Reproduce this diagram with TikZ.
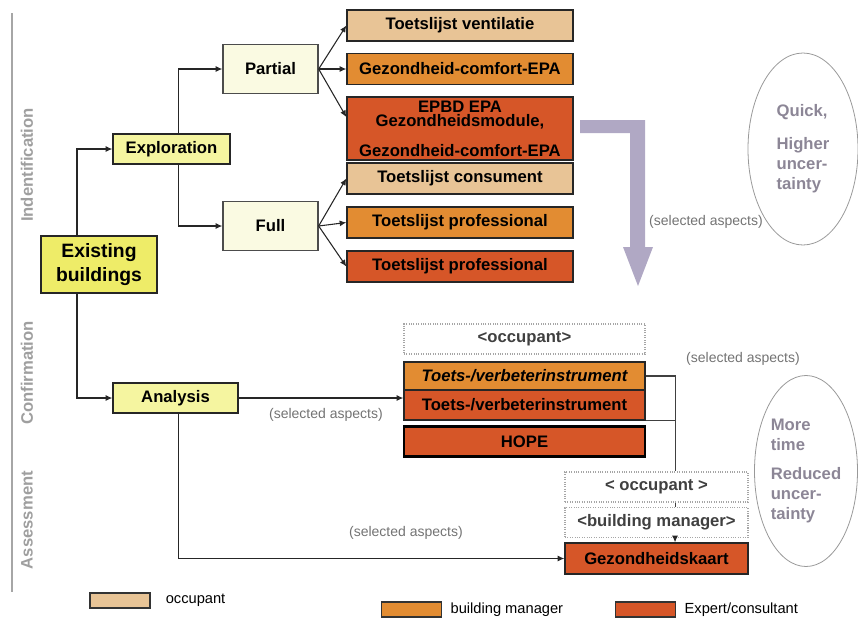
\documentclass[tikz,border=0pt]{standalone}
\usepackage{fontspec}
\setmainfont{Liberation Sans}
\usetikzlibrary{arrows.meta,positioning,shapes.geometric}
\definecolor{eyellow}{RGB}{238,236,104}
\definecolor{lyellow}{RGB}{245,245,160}
\definecolor{cream}{RGB}{250,250,226}
\definecolor{tanc}{RGB}{232,196,150}
\definecolor{orgc}{RGB}{226,140,50}
\definecolor{redc}{RGB}{214,86,40}
\definecolor{tgray}{RGB}{140,134,150}
\definecolor{agray}{RGB}{176,168,196}
\begin{document}
\begin{tikzpicture}[
        x=0.75pt, y=-0.75pt,
        font=\bfseries\fontsize{12.5}{14}\selectfont
    ]
    \tikzset{
        box/.style = {rectangle, draw=black!85, line width=1pt, inner sep=0pt, align=center},
        ybox/.style = {box, fill=eyellow, minimum width=87pt, minimum height=42.75pt,
                       font=\bfseries\fontsize{14.5}{18.5}\selectfont},
        lbox/.style = {box, fill=lyellow, minimum height=22.5pt},
        cbox/.style = {box, fill=cream, draw=black!70, minimum width=71.25pt, minimum height=36.5pt},
        tool/.style = {box, minimum width=169.5pt, minimum height=23.25pt},
        ctool/.style = {box, minimum width=180.75pt, minimum height=22.5pt},
        atool/.style = {box, minimum width=137.25pt, minimum height=23.25pt},
        role/.style = {rectangle, draw=gray!70, densely dotted, line width=0.8pt, fill=white,
                       inner sep=0pt, minimum height=22.5pt, text=black!75},
        phase/.style = {ellipse, draw=gray!80, line width=0.6pt, inner sep=0pt, align=left, text=tgray,
                        font=\bfseries\fontsize{12.5}{15}\selectfont},
        note/.style = {text=black!55, inner sep=0pt, font=\fontsize{10.5}{12}\selectfont},
        side/.style = {text=gray!75, rotate=90, inner sep=0pt},
        legbox/.style = {rectangle, draw=black!80, line width=1.3pt, inner sep=0pt,
                         minimum width=45pt, minimum height=11.25pt},
        legtxt/.style = {inner sep=0pt, font=\fontsize{11}{13}\selectfont},
        link/.style = {-{Latex[length=5pt,width=4.5pt]}, line width=0.8pt, draw=black!85},
        plain/.style = {-, line width=0.8pt, draw=black!75},
    }
    \useasboundingbox (0,0) rectangle (858,619);
    % phases
    \draw[gray!70, line width=1pt] (12,13) -- (12,592);
    \node[side] at (27,165) (ident) {Indentification};
    \node[side] at (27,373) (confirm) {Confirmation};
    \node[side] at (27,520) (assess) {Assessment};
    %
    \node[ybox] at (99,264.5) (eb) {Existing\\buildings};
    \node[lbox, minimum width=87.75pt] at (171.5,149) (expl) {Exploration};
    \node[cbox] at (270.5,69) (part) {Partial};
    \node[cbox] at (270.5,226) (full) {Full};
    \node[lbox, minimum width=93.75pt] at (175.5,398) (anal) {Analysis};
    %
    \node[tool, fill=tanc] at (460,25.5) (vent) {Toetslijst ventilatie};
    \node[tool, fill=orgc] at (460,69) (gcepa) {Gezondheid-comfort-EPA};
    \node[tool, fill=redc, minimum height=47.25pt] at (460,128.5) (epbd)
        {EPBD EPA\\[-3pt]Gezondheidsmodule,\\[8pt]Gezondheid-comfort-EPA};
    \node[tool, fill=tanc] at (460,178.5) (cons) {Toetslijst consument};
    \node[tool, fill=orgc] at (460,222.5) (prof1) {Toetslijst professional};
    \node[tool, fill=redc] at (460,266.5) (prof2) {Toetslijst professional};
    %
    \node[role, minimum width=180.75pt] at (524.5,339) (occ1) {<occupant>};
    \node[ctool, fill=orgc, minimum height=21pt] at (524.5,376) (toetsA) {\itshape Toets-/verbeterinstrument};
    \node[ctool, fill=redc] at (524.5,405) (toetsB) {Toets-/verbeterinstrument};
    \node[ctool, fill=redc, line width=1.6pt, draw=black] at (524.5,441.5) (hope) {HOPE};
    %
    \node[role, minimum width=137.25pt] at (656.5,487) (occ2) {< occupant >};
    \node[role, minimum width=137.25pt] at (656.5,522.5) (bm) {<building manager>};
    \node[atool, fill=redc] at (656.5,558.5) (gk) {Gezondheidskaart};
    \coordinate (tap) at ([xshift=13.9pt]occ2.north);
    %
    \node[phase, minimum width=82.5pt, minimum height=144pt] at (803,149) (quick)
        {Quick,\\[10pt]Higher\\uncer-\\tainty};
    \node[phase, minimum width=77.25pt, minimum height=143.25pt] at (806,471) (slow)
        {More\\time\\[7pt]Reduced\\uncer-\\tainty};
    %
    \fill[agray] (580,120) -- (645,120) -- (645,247) -- (653,247) -- (638,286)
        -- (623,247) -- (630,247) -- (630,133) -- (580,133) -- cycle;
    \node[note] at (706,222) (sel1) {(selected aspects)};
    \node[note] at (743,359) (sel2) {(selected aspects)};
    %
    \draw[link] ([xshift=-16.5pt]eb.north) |- (expl.west);
    \draw[link] ([xshift=-16.5pt]eb.south) |- (anal.west);
    \draw[link] ([xshift=4.9pt]expl.north) |- (part.west);
    \draw[link] ([xshift=4.9pt]expl.south) |- (full.west);
    %
    \draw[link] (part.east) -- (vent.west);
    \draw[link] (part.east) -- (gcepa.west);
    \draw[link] (part.east) -- ([yshift=8.6pt]epbd.west);
    \draw[link] (full.east) -- (cons.west);
    \draw[link] (full.east) -- (prof1.west);
    \draw[link] (full.east) -- (prof2.west);
    %
    \draw[link] (anal.east) -- node[pos=0.53, below=7pt, note] {(selected aspects)} (anal.east -| toetsB.west);
    \draw[link] ([xshift=1.9pt]anal.south) |- node[pos=0.795, above=14pt, note] {(selected aspects)} (gk.west);
    %
    \draw[plain] (toetsA.east) -| (tap);
    \draw[plain] (toetsB.south east) -- (toetsB.south east -| tap);
    \draw[plain] ([xshift=13.9pt]occ2.south) -- ([xshift=13.9pt]bm.north);
    \draw[link] ([xshift=13.9pt]bm.south) -- ([xshift=13.9pt]gk.north);
    % legend
    \node[legbox, fill=tanc] at (120,600.5) (lgocc) {};
    \node[legtxt, right=11pt of lgocc] (lgocct) {occupant};
    \node[legbox, fill=orgc] at (411.5,609.5) (lgbm) {};
    \node[legtxt, right=6pt of lgbm] (lgbmt) {building manager};
    \node[legbox, fill=redc] at (645.5,609.5) (lgexp) {};
    \node[legtxt, right=6pt of lgexp] (lgexpt) {Expert/consultant};
\end{tikzpicture}
\end{document}
